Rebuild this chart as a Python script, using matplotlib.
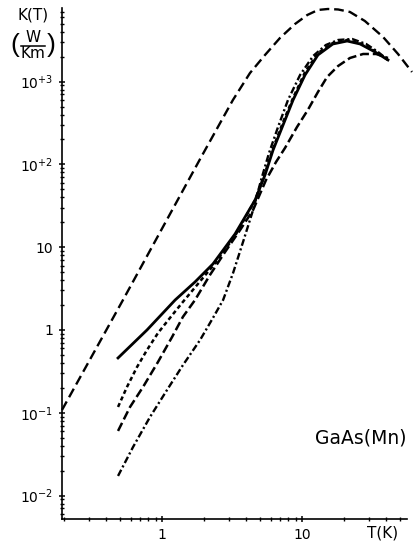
import matplotlib
matplotlib.use("Agg")
import matplotlib.pyplot as plt
from matplotlib.lines import Line2D
from matplotlib.ticker import LogLocator, FixedLocator, FixedFormatter, NullFormatter

plt.rcParams['lines.scale_dashes'] = False
plt.rcParams['mathtext.fontset'] = 'dejavusans'
plt.rcParams['font.family'] = 'DejaVu Sans'

# curva superior (rayas largas)
T_a = [0.193, 0.526, 1.87, 3.21, 4.25, 5.44, 6.96, 8.91, 10.9, 13.0, 15.3, 18.1, 22.0, 28.1, 37.9, 48.5, 61.0]
K_a = [0.108, 2.30, 116, 600, 1270, 2096, 3364, 4960, 6370, 7330, 7530, 7430, 6930, 5395, 3460, 2154, 1306]

# curva continua
T_b = [0.485, 0.781, 1.24, 1.72, 2.31, 3.32, 4.62, 5.44, 6.21, 7.32, 8.63, 10.5, 13.0, 16.6, 21.0, 26.0, 33.2, 41.1]
K_b = [0.459, 1.0, 2.30, 3.80, 6.27, 14.4, 37.1, 74.5, 149, 299, 600, 1200, 2100, 2845, 3090, 2845, 2280, 1824]

# rayas cortas
T_c = [0.485, 0.562, 0.663, 0.781, 0.936, 1.14, 1.39, 1.78, 2.31, 3.32, 4.62, 5.44, 6.21, 7.32, 8.63, 10.5, 13.0, 16.6, 21.0, 26.8, 33.8, 41.1]
K_c = [0.1175, 0.205, 0.357, 0.573, 0.920, 1.40, 2.12, 3.50, 5.93, 13.65, 37.1, 78.7, 157, 325, 634, 1300, 2215, 2926, 3181, 2845, 2280, 1824]

# rayas largas inferior
T_d = [0.485, 0.591, 0.732, 0.936, 1.18, 1.41, 1.72, 2.20, 2.82, 3.61, 4.47, 5.53, 6.52, 7.56, 9.21, 11.0, 13.0, 15.1, 18.1, 22.0, 27.3, 33.8, 41.1]
K_d = [0.0603, 0.1175, 0.205, 0.411, 0.823, 1.44, 2.30, 4.62, 8.75, 16.1, 28.1, 64.8, 106.9, 158, 283, 454, 750, 1136, 1543, 1928, 2154, 2154, 1928]

# raya-punto
T_e = [0.485, 0.621, 0.821, 1.086, 1.413, 1.87, 2.31, 2.73, 3.22, 3.79, 4.47, 5.10, 5.81, 6.74, 7.94, 9.68, 12.0, 14.8, 18.1, 22.8, 28.7, 34.9, 41.1]
K_e = [0.01725, 0.0386, 0.089, 0.1886, 0.378, 0.757, 1.396, 2.30, 4.90, 11.56, 28.1, 64.8, 137, 283, 600, 1201, 2038, 2767, 3181, 3270, 2845, 2280, 1824]

y_ticks = [1e-2, 1e-1, 1, 10, 1e2, 1e3]
y_labels = [r'$\mathregular{10^{-2}}$', r'$\mathregular{10^{-1}}$', '1', '10',
            r'$\mathregular{10^{+2}}$', r'$\mathregular{10^{+3}}$']
x_ticks = [1, 10]
x_labels = ['1', '10']

W, H = 413, 541
fig = plt.figure(figsize=(W/100, H/100), dpi=100)
ax = fig.add_axes([62/W, 22/H, (407-62)/W, (519-8)/H])
ax.set_xscale('log')
ax.set_yscale('log')
ax.set_xlim(0.193, 56.2)
ax.set_ylim(0.00521, 7740)

for s in ['top', 'right']:
	ax.spines[s].set_visible(False)
for s in ['left', 'bottom']:
	ax.spines[s].set_linewidth(1.2)

ax.plot(T_a, K_a, color='k', lw=1.7, dashes=(7, 3.5), clip_on=False)
ax.plot(T_b, K_b, color='k', lw=2.0, clip_on=False)
ax.plot(T_c, K_c, color='k', lw=1.8, dashes=(3, 2.2), clip_on=False)
ax.plot(T_d, K_d, color='k', lw=1.8, dashes=(6.5, 2.8), clip_on=False)
ax.plot(T_e, K_e, color='k', lw=1.7, dashes=(5, 2, 1.5, 2), clip_on=False)

ax.yaxis.set_major_locator(FixedLocator(y_ticks))
ax.yaxis.set_major_formatter(FixedFormatter(y_labels))
ax.xaxis.set_major_locator(FixedLocator(x_ticks))
ax.xaxis.set_major_formatter(FixedFormatter(x_labels))
ax.xaxis.set_minor_locator(LogLocator(base=10, subs=range(2, 10)))
ax.yaxis.set_minor_locator(LogLocator(base=10, subs=range(2, 10)))
ax.xaxis.set_minor_formatter(NullFormatter())
ax.yaxis.set_minor_formatter(NullFormatter())
ax.tick_params(which='major', direction='inout', length=5, width=1.1, labelsize=10, pad=4)
ax.tick_params(which='minor', direction='inout', length=3.5, width=1.0)

# etiquetas de ejes
fig.text(383/W, 1-533/H, 'T(K)', ha='center', va='center', fontsize=11)
fig.text(33/W, 1-15/H, 'K(T)', ha='center', va='center', fontsize=11)
fig.text(33/W, 1-38/H, 'W', ha='center', va='center', fontsize=11)
fig.text(33/W, 1-54/H, 'Km', ha='center', va='center', fontsize=11)
fig.add_artist(Line2D([21/W, 45/W], [1-46/H, 1-46/H], color='k', lw=1.1))
fig.text(15/W, 1-45/H, '(', ha='center', va='center', fontsize=19, family='Liberation Sans')
fig.text(51/W, 1-45/H, ')', ha='center', va='center', fontsize=19, family='Liberation Sans')
fig.text(361/W, 1-438/H, 'GaAs(Mn)', ha='center', va='center', fontsize=13.5)

fig.savefig('out.png', dpi=100)
